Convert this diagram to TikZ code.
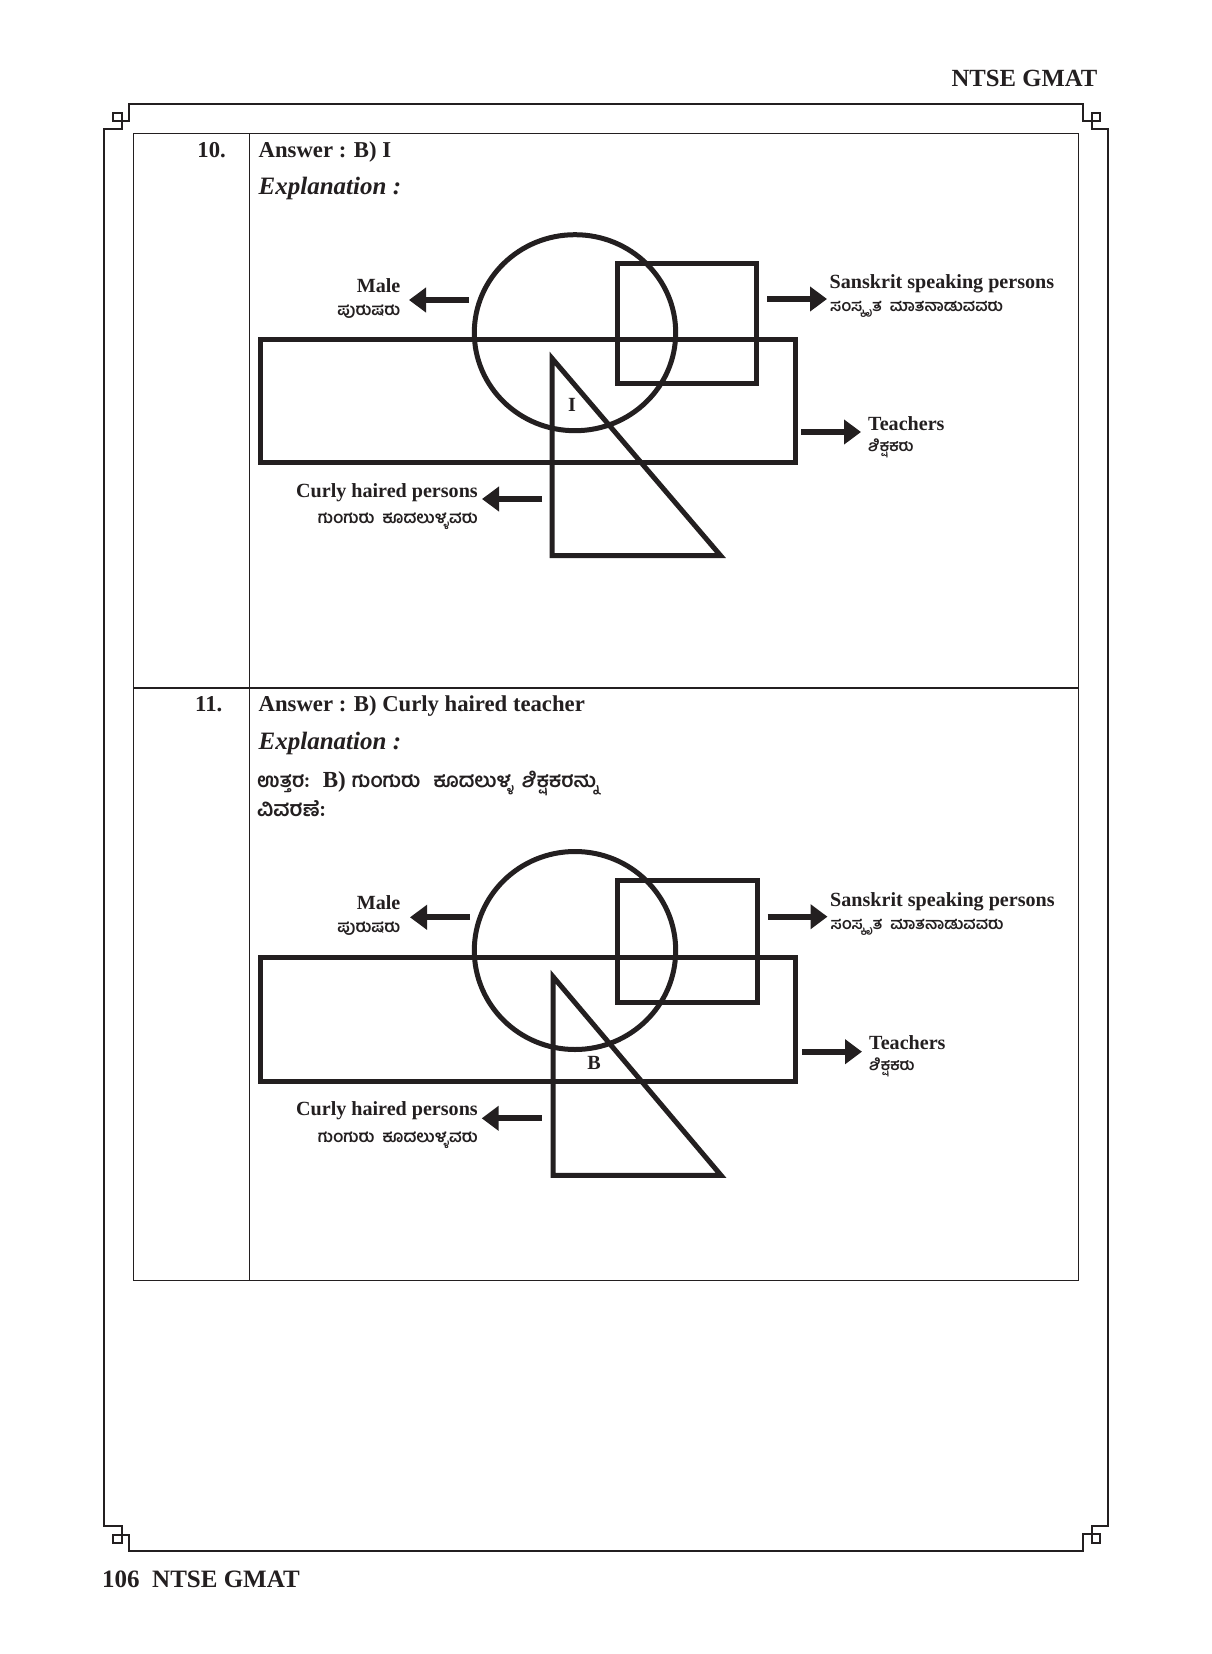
\documentclass[tikz,border=0pt]{standalone}
\usepackage{fontspec}
\setmainfont{Liberation Serif}
\newfontfamily\kn[Script=Kannada,WordSpace=2]{Hind Mysuru}
\usetikzlibrary{arrows.meta}
\definecolor{ink}{HTML}{231F20}
\tikzset{
 shapeline/.style={draw=ink,line width=5pt,miter limit=10},
 framerule/.style={draw=ink,line width=2.6pt,miter limit=10},
 tablerule/.style={draw=ink,line width=1pt},
 heavyrule/.style={draw=ink,line width=2pt},
 pointer/.style={draw=ink,line width=6pt,-{Triangle[length=17pt,width=24pt]}},
 lab/.style={inner sep=0pt,font=\bfseries\fontsize{20.1}{20}\selectfont,text=ink},
 head/.style={inner sep=0pt,font=\bfseries\fontsize{22.7}{22}\selectfont,text=ink},
 expl/.style={inner sep=0pt,font=\bfseries\itshape\fontsize{25}{25}\selectfont,text=ink},
 knlab/.style={inner sep=0pt,font=\kn\bfseries\fontsize{#1}{18}\selectfont,text=ink},
 knlab/.default=16.5,
}
\begin{document}
\begin{tikzpicture}[x=1pt,y=-1pt]
\useasboundingbox (0,0) rectangle (1211,1654);
\fill[white] (0,0) rectangle (1211,1654);
% frame
\draw[framerule] (129,104) -- (1083,104) -- (1083,121) -- (1100,121) -- (1100,113) -- (1092,113) -- (1092,129) -- (1108,129)
 -- (1108,1526) -- (1092,1526) -- (1092,1543) -- (1100,1543) -- (1100,1534) -- (1083,1534) -- (1083,1551)
 -- (129,1551) -- (129,1535) -- (113,1535) -- (113,1543) -- (122,1543) -- (122,1526) -- (104,1526)
 -- (104,129) -- (122,129) -- (122,113) -- (113,113) -- (113,121) -- (129,121) -- cycle;
% table
\draw[tablerule] (133,133) rectangle (1078,1280.5);
\draw[tablerule] (249.3,133) -- (249.3,1280.5);
\draw[heavyrule] (133,688) -- (1078,688);
% page texts
\node[head,anchor=base east,font=\bfseries\fontsize{24.7}{24}\selectfont] (hdr) at (1097.5,86) {NTSE GMAT};
\node[head,anchor=base west,font=\bfseries\fontsize{25}{25}\selectfont] (ftr) at (102,1587) {106\hspace{0.5em}NTSE GMAT};
\node[head,anchor=base east] (n10) at (226,157) {10.};
\node[head,anchor=base west] (a10) at (258.5,157) {Answer : B) I};
\node[expl,anchor=base west] (e10) at (258.5,194) {Explanation :};
\node[head,anchor=base east] (n11) at (222.5,711.5) {11.};
\node[head,anchor=base west] (a11) at (258.5,711.5) {Answer : B) Curly haired teacher};
\node[expl,anchor=base west] (e11) at (258.5,749) {Explanation :};
\node[knlab=20,anchor=base west] (k1) at (257,787) {ಉತ್ತರ:\hspace{13pt}{\rmfamily\bfseries\fontsize{23}{23}\selectfont B)}\hspace{6pt}ಗುಂಗುರು\hspace{13pt}ಕೂದಲುಳ್ಳ\hspace{8pt}ಶಿಕ್ಷಕರನ್ನು};
\node[knlab=21,anchor=base west] (k2) at (257,816) {ವಿವರಣೆ:};
% diagram 1
\draw[shapeline] (575,332.7) ellipse (100.7 and 98);
\draw[shapeline] (617.5,263.5) rectangle (756.5,383.5);
\draw[shapeline] (260,339.7) rectangle (795,462.5);
\draw[shapeline] (552,358.3) -- (552,555.5) -- (720.5,555.5) -- cycle;
\node[lab,anchor=base] (i1) at (572,411.5) {I};
\coordinate (m1a) at (469,300); \coordinate (m1b) at (409,300);
\coordinate (s1a) at (767,299); \coordinate (s1b) at (827,299);
\coordinate (t1a) at (801,432); \coordinate (t1b) at (861,432);
\coordinate (c1a) at (542,499); \coordinate (c1b) at (482,499);
\draw[pointer] (m1a) -- (m1b);
\draw[pointer] (s1a) -- (s1b);
\draw[pointer] (t1a) -- (t1b);
\draw[pointer] (c1a) -- (c1b);
\node[lab,anchor=base east] (ml1) at (400.5,292.5) {Male};
\node[knlab,anchor=base east] (mk1) at (400.5,315) {ಪುರುಷರು};
\node[lab,anchor=base west] (sl1) at (829.5,288) {Sanskrit speaking persons};
\node[knlab=16,anchor=base west] (sk1) at (830,311) {ಸಂಸ್ಕೃತ ಮಾತನಾಡುವವರು};
\node[lab,anchor=base west] (tl1) at (868,430) {Teachers};
\node[knlab=15.5,anchor=base west] (tk1) at (868,451) {ಶಿಕ್ಷಕರು};
\node[lab,anchor=base east] (cl1) at (478,497) {Curly haired persons};
\node[knlab,anchor=base east] (ck1) at (478,523) {ಗುಂಗುರು ಕೂದಲುಳ್ಳವರು};
% diagram 2
\draw[shapeline] (575,950.5) ellipse (100.7 and 99);
\draw[shapeline] (617.5,880.5) rectangle (757.5,1002);
\draw[shapeline] (260,957.5) rectangle (795.3,1081.5);
\draw[shapeline] (553,976.6) -- (553,1175.3) -- (721,1175.3) -- cycle;
\node[lab,anchor=base] (b2) at (594,1069) {B};
\coordinate (m2a) at (470,917.3); \coordinate (m2b) at (410,917.3);
\coordinate (s2a) at (767.7,916.7); \coordinate (s2b) at (827.5,916.7);
\coordinate (t2a) at (802,1051.7); \coordinate (t2b) at (862,1051.7);
\coordinate (c2a) at (541.7,1118.3); \coordinate (c2b) at (481.7,1118.3);
\draw[pointer] (m2a) -- (m2b);
\draw[pointer] (s2a) -- (s2b);
\draw[pointer] (t2a) -- (t2b);
\draw[pointer] (c2a) -- (c2b);
\node[lab,anchor=base east] (ml2) at (400.5,909.5) {Male};
\node[knlab,anchor=base east] (mk2) at (400.5,932) {ಪುರುಷರು};
\node[lab,anchor=base west] (sl2) at (830,906) {Sanskrit speaking persons};
\node[knlab=16,anchor=base west] (sk2) at (830.5,929) {ಸಂಸ್ಕೃತ ಮಾತನಾಡುವವರು};
\node[lab,anchor=base west] (tl2) at (869,1049) {Teachers};
\node[knlab=15.5,anchor=base west] (tk2) at (869,1070) {ಶಿಕ್ಷಕರು};
\node[lab,anchor=base east] (cl2) at (478,1115) {Curly haired persons};
\node[knlab,anchor=base east] (ck2) at (478,1142) {ಗುಂಗುರು ಕೂದಲುಳ್ಳವರು};
\end{tikzpicture}
\end{document}
